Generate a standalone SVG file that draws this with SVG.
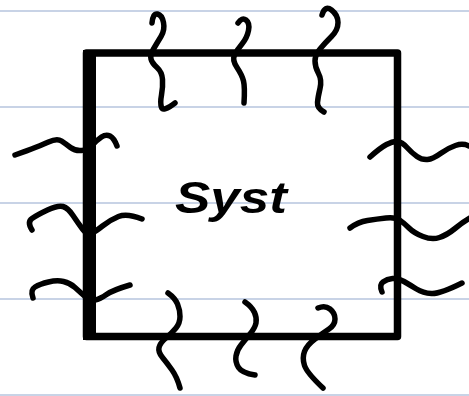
<svg xmlns="http://www.w3.org/2000/svg" width="469" height="396" viewBox="0 0 469 396">
<style>
.rule{stroke:#c8d3e6;stroke-width:2}
.sq{fill:none;stroke:#000;stroke-width:5.5;stroke-linecap:round;stroke-linejoin:round}
.box{fill:none;stroke:#000;stroke-width:7.5;stroke-linejoin:round}
.lbl{font-family:"Liberation Sans",Arial,sans-serif;font-weight:bold;font-style:italic;font-size:44px;fill:#000}
</style>
<rect width="469" height="396" fill="#fff"/>
<g id="rules">
<line class="rule" x1="0" y1="11" x2="469" y2="11"/>
<line class="rule" x1="0" y1="107" x2="469" y2="107"/>
<line class="rule" x1="0" y1="203" x2="469" y2="203"/>
<line class="rule" x1="0" y1="299" x2="469" y2="299"/>
<line class="rule" x1="0" y1="395" x2="469" y2="395"/>
</g>
<g id="system">
<rect class="box" x="86.5" y="53" width="311" height="283.5"/>
<rect x="83" y="50" width="13" height="290" fill="#000"/>
<text class="lbl" x="175" y="213" textLength="112" lengthAdjust="spacingAndGlyphs">Syst</text>
</g>
<g id="connectors">
<path class="sq" d="M152,23 Q153,13 157.5,14 Q162,15 163.5,22.5 Q165,30 161,36.5 Q157,43 153.5,49 Q150,55 151,59 Q152,63 157,67.5 Q162,72 162.5,79.5 Q163,87 161.5,95 Q160,103 161.5,107.5 Q163,112 175,103"/>
<path class="sq" d="M238,23 Q242,17 246,20 Q250,23 248.5,30.5 Q247,38 242,44 Q237,50 234.5,55 Q232,60 237,67.5 Q242,75 243.5,81 Q245,87 244,103"/>
<path class="sq" d="M322,15 Q325,5 331.5,10 Q338,15 338,22.5 Q338,30 331.5,36.5 Q325,43 320,49 Q315,55 315,61 Q315,67 318.5,73.5 Q322,80 320,88.5 Q318,97 317.5,102.5 Q317,108 324,112"/>
<path class="sq" d="M15,155 Q40,146 48.5,142 Q57,138 61.5,141 Q66,144 70.5,147.5 Q75,151 81.5,150.5 Q88,150 92.5,145 Q97,140 101.5,137 Q106,134 110,136 Q114,138 117,146"/>
<path class="sq" d="M32,230 Q27,222 32,218.5 Q37,215 47.5,210 Q58,205 63,206.5 Q68,208 73,215.5 Q78,223 82.5,229 Q87,235 91,233.5 Q95,232 102.5,226 Q110,220 118.5,216.5 Q127,213 142,219"/>
<path class="sq" d="M33,298 Q30,290 35,287 Q40,284 48.5,282 Q57,280 63.5,281.5 Q70,283 75,287.5 Q80,292 85,296.5 Q90,301 95,300 Q100,299 106.5,294.5 Q113,290 130,285"/>
<path class="sq" d="M370,157 Q380,148 386.5,144.5 Q393,141 397.5,141.5 Q402,142 407,147.5 Q412,153 417,156.5 Q422,160 427.5,159.5 Q433,159 440.5,153.5 Q448,148 455.5,145.5 Q463,143 469,146"/>
<path class="sq" d="M350,228 Q358,222 367.5,220.5 Q377,219 386,218 Q395,217 399.5,220 Q404,223 409,228 Q414,233 423,236.5 Q432,240 439.5,237.5 Q447,235 455,228.5 Q463,222 470,218"/>
<path class="sq" d="M382,292 Q379,285 383,282 Q387,279 392.5,278.5 Q398,278 404,281.5 Q410,285 416.5,289 Q423,293 431.5,293.5 Q440,294 462,283"/>
<path class="sq" d="M168,293 Q175,298 177.5,304 Q180,310 180,316.5 Q180,323 176,328 Q172,333 166,338 Q160,343 159,347.5 Q158,352 162.5,357.5 Q167,363 172,370 Q177,377 180,388"/>
<path class="sq" d="M245,302 Q252,307 254.5,312.5 Q257,318 256,323 Q255,328 250,334 Q245,340 241,345 Q237,350 236,356 Q235,362 238.5,367.5 Q242,373 255,375"/>
<path class="sq" d="M318,308 Q325,305 330,309 Q335,313 335,319 Q335,325 329,329 Q323,333 315,339 Q307,345 304.5,351.5 Q302,358 304.5,365.5 Q307,373 323,388"/>
</g>
</svg>
